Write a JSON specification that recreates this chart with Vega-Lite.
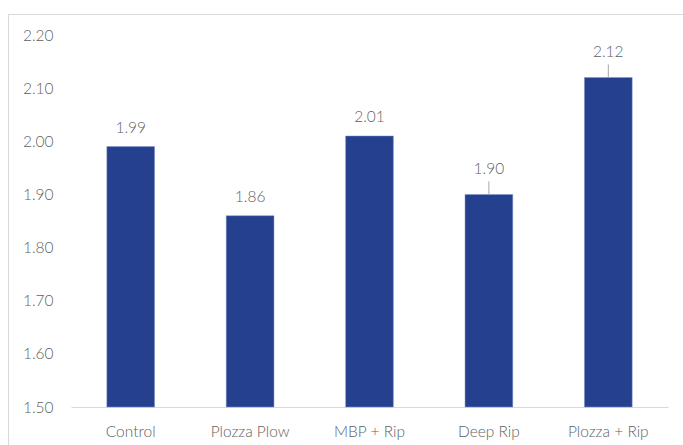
{
  "$schema": "https://vega.github.io/schema/vega-lite/v6.json",
  "autosize": {"type": "none"},
  "padding": {"left": 8, "top": 14, "right": 0, "bottom": 0},
  "width": 680,
  "height": 440,
  "data": {
    "values": [
      {"treatment": "Control", "value": 1.99},
      {"treatment": "Plozza Plow", "value": 1.86},
      {"treatment": "MBP + Rip", "value": 2.01},
      {"treatment": "Deep Rip", "value": 1.90},
      {"treatment": "Plozza + Rip", "value": 2.12}
    ]
  },
  "encoding": {
    "x": {
      "field": "treatment",
      "type": "nominal",
      "sort": null,
      "scale": {"range": [63, 660], "paddingInner": 0.6, "paddingOuter": 0.3},
      "axis": {
        "title": null,
        "orient": "bottom",
        "offset": -47,
        "labelAngle": 0,
        "ticks": false,
        "tickSize": 0,
        "labelBaseline": "middle",
        "labelPadding": 24,
        "domainColor": "#d9d9d9",
        "domainWidth": 1
      }
    }
  },
  "layer": [
    {
      "mark": {"type": "bar", "color": "#25408f", "stroke": "#8497c9", "strokeWidth": 0.5},
      "encoding": {
        "y": {
          "field": "value",
          "type": "quantitative",
          "scale": {"domain": [1.5, 2.2], "range": [393, 21], "nice": false, "zero": false},
          "axis": {
            "title": null,
            "orient": "left",
            "offset": -45,
            "domain": false,
            "ticks": false,
            "tickSize": 0,
            "labelPadding": 0,
            "grid": false,
            "values": [1.5, 1.6, 1.7, 1.8, 1.9, 2.0, 2.1, 2.2],
            "format": ".2f"
          }
        },
        "y2": {"datum": 1.5}
      }
    },
    {
      "transform": [{"filter": {"not": {"field": "treatment", "oneOf": ["Deep Rip", "Plozza + Rip"]}}}],
      "mark": {"type": "text", "baseline": "middle", "dy": -19},
      "encoding": {
        "y": {"field": "value", "type": "quantitative"},
        "text": {"field": "value", "type": "quantitative", "format": ".2f"}
      }
    },
    {
      "transform": [{"filter": {"field": "treatment", "oneOf": ["Deep Rip", "Plozza + Rip"]}}],
      "mark": {"type": "rule", "color": "#a6a6a6", "strokeWidth": 1, "y2Offset": -13},
      "encoding": {
        "y": {"field": "value", "type": "quantitative"},
        "y2": {"field": "value"}
      }
    },
    {
      "transform": [{"filter": {"field": "treatment", "oneOf": ["Deep Rip", "Plozza + Rip"]}}],
      "mark": {"type": "text", "baseline": "middle", "dy": -25.5},
      "encoding": {
        "y": {"field": "value", "type": "quantitative"},
        "text": {"field": "value", "type": "quantitative", "format": ".2f"}
      }
    }
  ],
  "config": {
    "font": "Lato",
    "view": {"stroke": "#d9d9d9", "strokeWidth": 1},
    "axis": {
      "labelFont": "Lato",
      "labelFontSize": 15.5,
      "labelFontWeight": 300,
      "labelColor": "#5f5f5f"
    },
    "text": {"font": "Lato", "fontSize": 15.5, "fontWeight": 300, "color": "#5f5f5f"}
  }
}
